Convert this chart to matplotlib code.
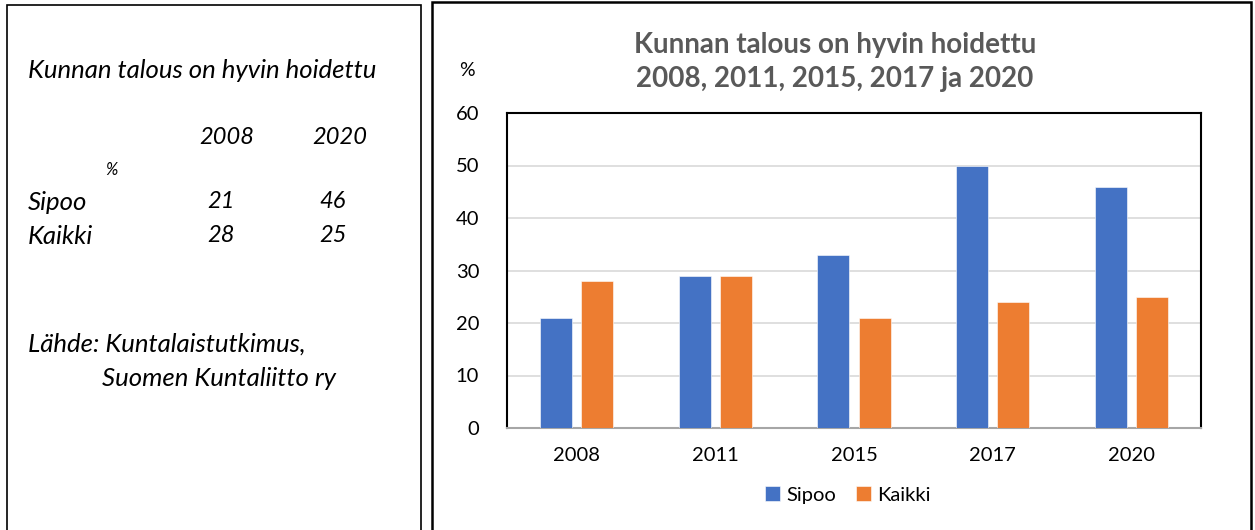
import matplotlib
matplotlib.use("Agg")
import matplotlib.pyplot as plt
import numpy as np
from matplotlib.patches import Rectangle

years = ["2008", "2011", "2015", "2017", "2020"]
sipoo = [21, 29, 33, 50, 46]
kaikki = [28, 29, 21, 24, 25]
series_names = ["Sipoo", "Kaikki"]
y_ticks = [0, 10, 20, 30, 40, 50, 60]

# left-hand summary table
table_years = ["2008", "2020"]
table_sipoo = ["21", "46"]
table_kaikki = ["28", "25"]

plt.rcParams['font.family'] = ['Lato', 'DejaVu Sans']

W, H = 1255, 530
fig = plt.figure(figsize=(W / 100, H / 100), dpi=100)

def fx(px):
    return px / W

def fy(py):
    return 1 - py / H

# panel frames
fig.patches.append(Rectangle((fx(7), fy(531)), fx(414), (531 - 5) / H, transform=fig.transFigure,
                             fill=False, edgecolor="black", linewidth=1.2))
fig.patches.append(Rectangle((fx(432), fy(531)), fx(819), (531 - 2) / H, transform=fig.transFigure,
                             fill=False, edgecolor="black", linewidth=1.8))

# left panel text
it = dict(style="italic", fontsize=18.5, color="black", va="center")
num = dict(style="italic", fontsize=17, color="black", va="center")
fig.text(fx(28), fy(71), "Kunnan talous on hyvin hoidettu", ha="left", **it)
fig.text(fx(227), fy(137), table_years[0], ha="center", **num)
fig.text(fx(340), fy(137), table_years[1], ha="center", **num)
fig.text(fx(111), fy(170), "%", ha="center", fontsize=12, style="italic", va="center")
fig.text(fx(28), fy(202), "Sipoo", ha="left", **it)
fig.text(fx(221), fy(202), table_sipoo[0], ha="center", **num)
fig.text(fx(333), fy(202), table_sipoo[1], ha="center", **num)
fig.text(fx(28), fy(236), "Kaikki", ha="left", **it)
fig.text(fx(221), fy(236), table_kaikki[0], ha="center", **num)
fig.text(fx(333), fy(236), table_kaikki[1], ha="center", **num)
fig.text(fx(28), fy(344), "Lähde: Kuntalaistutkimus,", ha="left", **it)
fig.text(fx(102), fy(379), "Suomen Kuntaliitto ry", ha="left", **it)

# chart
ax = fig.add_axes([fx(507), fy(428), fx(1201 - 507), (428 - 113) / H])
x = np.arange(len(years))
bw = 0.23
off = 0.148
ax.bar(x - off, sipoo, bw, color="#4472C4", edgecolor="white", linewidth=0.4, label=series_names[0], zorder=3)
ax.bar(x + off, kaikki, bw, color="#ED7D31", edgecolor="white", linewidth=0.4, label=series_names[1], zorder=3)

ax.set_xlim(-0.5, len(years) - 0.5)
ax.set_ylim(0, 60)
ax.set_yticks(y_ticks)
ax.set_xticks(x)
ax.set_xticklabels(years)
ax.tick_params(axis="both", length=0, labelsize=14.5, colors="black")
ax.tick_params(axis="y", pad=20)
ax.tick_params(axis="x", pad=14)
ax.grid(axis="y", color="#D9D9D9", linewidth=1.2, zorder=0)
for s in ["top", "left", "right"]:
    ax.spines[s].set_color("black")
    ax.spines[s].set_linewidth(1.5)
ax.spines["bottom"].set_color("#A6A6A6")
ax.spines["bottom"].set_linewidth(1.5)

fig.text(fx(835), fy(45), "Kunnan talous on hyvin hoidettu", ha="center", va="center",
         fontsize=20, fontweight="bold", color="#595959")
fig.text(fx(835), fy(79), "2008, 2011, 2015, 2017 ja 2020", ha="center", va="center",
         fontsize=20, fontweight="bold", color="#595959")
fig.text(fx(467), fy(71), "%", ha="center", va="center", fontsize=14)

fig.legend(loc="center", bbox_to_anchor=(fx(848), fy(495)), ncol=2, frameon=False,
           fontsize=14.5, handlelength=0.75, handleheight=0.75, handletextpad=0.3,
           columnspacing=1.0)

fig.savefig("out.png", dpi=100)
